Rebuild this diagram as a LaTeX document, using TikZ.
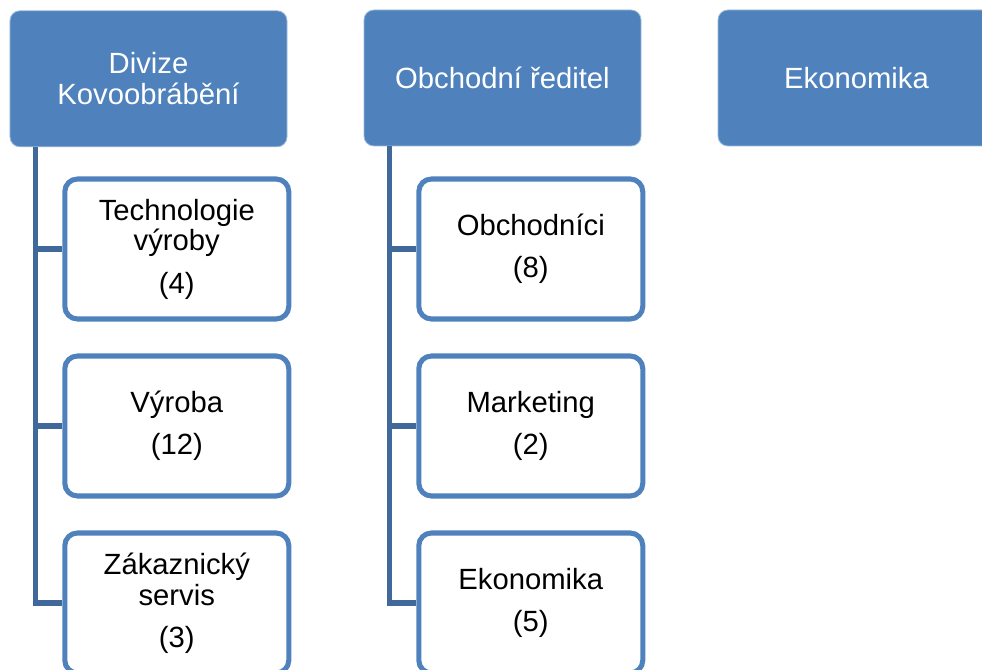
\documentclass[tikz,border=0pt]{standalone}
\usepackage{fontspec}
\setmainfont{Liberation Sans}
\definecolor{orgblue}{RGB}{79,129,189}
\definecolor{linkblue}{RGB}{65,104,154}

\begin{document}
\begin{tikzpicture}[font=\fontsize{20.8}{22}\selectfont,
  head/.style={fill=orgblue, draw=orgblue!55!white, line width=0.6pt, rounded corners=7pt, minimum width=6.925cm, minimum height=3.4cm, align=center, text=white, inner sep=0pt},
  unit/.style={draw=orgblue, fill=white, line width=3.6pt, rounded corners=9pt, minimum width=5.6cm, minimum height=3.5cm, align=center, inner sep=0pt},
  link/.style={draw=linkblue, line width=3.6pt}]
  \useasboundingbox (0,0) rectangle (24.55,-16.75);
  \clip (0,0) rectangle (24.55,-16.75);

  \node[head] (p1) at (3.7125,-1.97) {Divize\\Kovoobrábění};
  \node[head] (p2) at (12.5625,-1.95) {Obchodní ředitel};
  \node[head] (p3) at (21.4125,-1.95) {Ekonomika};

  \node[unit] (c11) at (4.42,-6.225) {Technologie\\výroby\\[8pt](4)};
  \node[unit] (c12) at (4.42,-10.65) {Výroba\\[8pt](12)};
  \node[unit] (c13) at (4.42,-15.075) {Zákaznický\\servis\\[8pt](3)};

  \node[unit] (c21) at (13.27,-6.225) {Obchodníci\\[8pt](8)};
  \node[unit] (c22) at (13.27,-10.65) {Marketing\\[8pt](2)};
  \node[unit] (c23) at (13.27,-15.075) {Ekonomika\\[8pt](5)};

  \draw[link] ([xshift=0.65cm]p1.south west) |- (c11.west);
  \draw[link] ([xshift=0.65cm]p1.south west) |- (c12.west);
  \draw[link] ([xshift=0.65cm]p1.south west) |- (c13.west);
  \draw[link] ([xshift=0.65cm]p2.south west) |- (c21.west);
  \draw[link] ([xshift=0.65cm]p2.south west) |- (c22.west);
  \draw[link] ([xshift=0.65cm]p2.south west) |- (c23.west);
\end{tikzpicture}
\end{document}
